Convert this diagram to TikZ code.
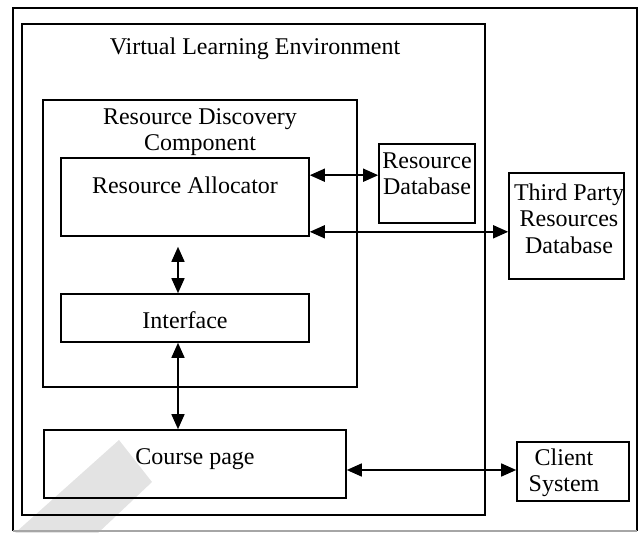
\documentclass[tikz,border=0pt]{standalone}
\usepackage{fontspec}
\setmainfont{Liberation Serif}
\usetikzlibrary{arrows.meta,calc}
\tikzset{
  box/.style={draw=black, line width=1.6pt, inner sep=0pt, rectangle},
  lbl/.style={inner sep=0pt, align=center, font=\fontsize{24pt}{26.5pt}\selectfont},
  dbl/.style={line width=1.5pt, {Triangle[length=15pt,width=13pt]}-{Triangle[length=15pt,width=13pt]}},
}
\begin{document}
\begin{tikzpicture}[x=1pt,y=-1pt]
\useasboundingbox (0,0) rectangle (641,533);
% watermark band
\fill[black!11] (15,533) -- (119,440) -- (152,482) -- (98,533) -- cycle;
% outer frame
\draw[line width=1.6pt] (13,531) -- (13,8) -- (637,8) -- (637,531);
\draw[line width=1.2pt, black!35] (13,531) -- (637,531);
% boxes
\node[box, minimum width=463pt, minimum height=491pt] (vle) at (253.5,269.5) {};
\node[box, minimum width=314pt, minimum height=287pt] (rdc) at (200,243.5) {};
\node[box, minimum width=248pt, minimum height=78pt] (ra) at (185,197) {};
\node[box, minimum width=248pt, minimum height=48pt] (iface) at (185,318) {};
\node[box, minimum width=302pt, minimum height=68pt] (cp) at (195,464) {};
\node[box, minimum width=96pt, minimum height=79pt] (rdb) at (427,183.5) {};
\node[box, minimum width=115pt, minimum height=106pt] (tp) at (566.5,226) {};
\node[box, minimum width=112pt, minimum height=59pt] (cs) at (573,471.5) {};
% labels
\node[lbl] (vlet) at (255,49) {Virtual Learning Environment};
\node[lbl] (rdct) at (200,132) {Resource Discovery\\Component};
\node[lbl] (rat) at (185,185) {Resource Allocator};
\node[lbl] (ifacet) at (185,320) {Interface};
\node[lbl] (cpt) at (195,459) {Course page};
\node[lbl] (rdbt) at (427,174) {Resource\\Database};
\node[lbl] (tpt) at (569,218.5) {Third Party\\Resources\\Database};
\node[lbl] (cst) at (564,473) {Client\\System};
% connectors
\draw[dbl] ([yshift=-18pt]ra.north east) -- ([yshift=-18pt]ra.north east -| rdb.west);
\draw[dbl] ([yshift=5pt]ra.south east) -- ([yshift=5pt]ra.south east -| tp.west);
\draw[dbl] ([xshift=-7pt,yshift=-10pt]ra.south) -- ([xshift=-7pt]iface.north);
\draw[dbl] ([xshift=-7pt]iface.south) -- ([xshift=-7pt]iface.south |- cp.north);
\draw[dbl] ([yshift=-6pt]cp.east) -- ([yshift=-6pt]cp.east -| cs.west);
\end{tikzpicture}
\end{document}
